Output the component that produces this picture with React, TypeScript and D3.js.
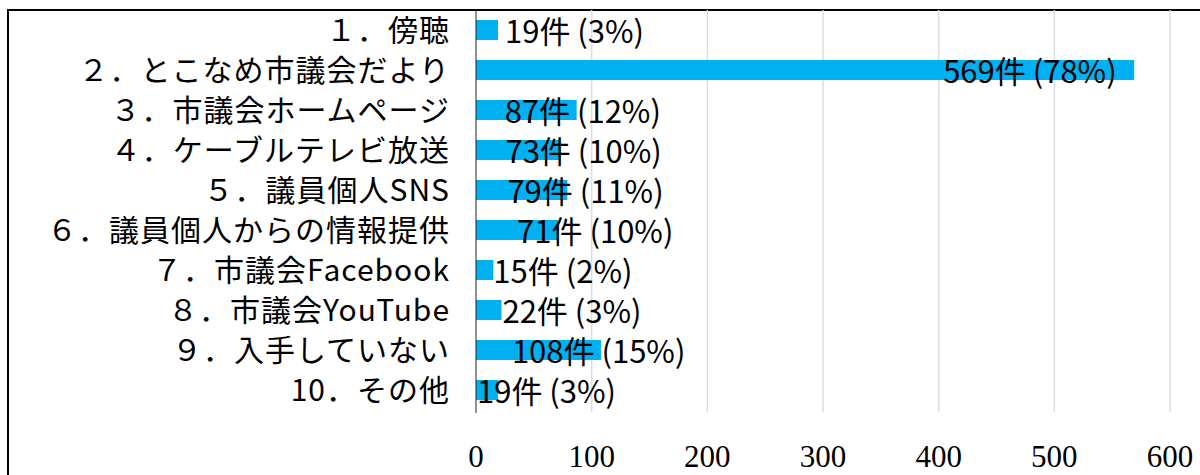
import React from 'react';
import * as d3 from 'd3';

// survey answers (count + share of respondents)
const categories = [
  '１．傍聴',
  '２．とこなめ市議会だより',
  '３．市議会ホームページ',
  '４．ケーブルテレビ放送',
  '５．議員個人SNS',
  '６．議員個人からの情報提供',
  '７．市議会Facebook',
  '８．市議会YouTube',
  '９．入手していない',
  '10．その他',
];
const counts = [19, 569, 87, 73, 79, 71, 15, 22, 108, 19];
const percents = [3, 78, 12, 10, 11, 10, 2, 3, 15, 3];
const ticks = [0, 100, 200, 300, 400, 500, 600];

// labels were dragged by hand in the original, so keep their offsets from the bar end
const labelDx = [7, -191, -72, -55, -60, -41, 0, 1, -89, -21];

const W = 1200;
const H = 475;
const plot = { left: 476, right: 1170, top: 10, bottom: 410 };

export default function App() {
  const x = d3.scaleLinear().domain([0, 600]).range([plot.left, plot.right]);
  const y = d3.scaleBand<string>()
    .domain(categories)
    .range([plot.top, plot.bottom])
    .paddingInner(0.5)
    .paddingOuter(0.25);

  const jp = '"Noto Sans CJK JP", "Noto Sans", sans-serif';

  return (
    <div style={{ position: 'absolute', left: 0, top: 0 }}>
      <svg width={W} height={H} style={{ display: 'block', background: '#fff' }}>
        {/* chart frame */}
        <rect x={8} y={10} width={W + 20} height={H + 20} fill="none" stroke="#000" strokeWidth={2} />

        {/* gridlines */}
        {ticks.slice(1).map(t => (
          <line key={t} x1={x(t)} x2={x(t)} y1={plot.top} y2={plot.bottom + 2}
            stroke="#d9dee6" strokeWidth={1.5} />
        ))}

        {/* bars */}
        {categories.map((c, i) => (
          <rect key={c} x={x(0)} y={y(c)!} width={x(counts[i]) - x(0)} height={y.bandwidth()}
            fill="#00b0f0" />
        ))}

        {/* category axis */}
        <line x1={x(0)} x2={x(0)} y1={plot.top} y2={plot.bottom + 3} stroke="#222" strokeWidth={1} />
        {categories.map(c => (
          <text key={c} x={450} y={y(c)! + y.bandwidth() / 2} dy="0.36em" textAnchor="end"
            fontFamily={jp} fontSize={30} letterSpacing={1} fill="#000">{c}</text>
        ))}

        {/* data labels */}
        {categories.map((c, i) => (
          <text key={c} x={x(counts[i]) + labelDx[i]} y={y(c)! + y.bandwidth() / 2 + 2} dy="0.36em"
            fontFamily={jp} fontSize={31} fill="#000">
            {`${counts[i]}件 (${percents[i]}%)`}
          </text>
        ))}

        {/* value axis labels */}
        {ticks.map(t => (
          <text key={t} x={x(t)} y={467} textAnchor="middle"
            fontFamily='"Liberation Serif", "DejaVu Serif", serif' fontSize={31} fill="#000">{t}</text>
        ))}
      </svg>
    </div>
  );
}
